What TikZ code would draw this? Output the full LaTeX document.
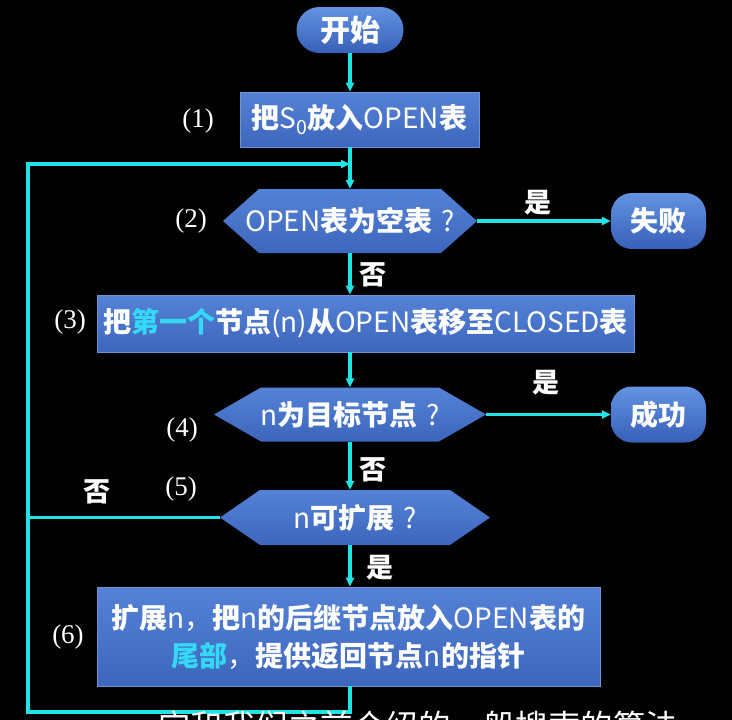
\documentclass[tikz,border=0pt]{standalone}
\usepackage{fontspec}
\newfontfamily\cjk{Noto Sans CJK SC}
\newfontfamily\numfont{Liberation Serif}
\usetikzlibrary{arrows.meta,calc}

\definecolor{flowcyan}{HTML}{22E4E6}
\definecolor{hicyan}{HTML}{35D8F5}
\definecolor{boxtop}{HTML}{5482D6}
\definecolor{boxbot}{HTML}{3D66BC}
\definecolor{pilltop}{HTML}{6493E2}
\definecolor{pillbot}{HTML}{3760B8}
\definecolor{edge}{HTML}{6F93DA}

% light-weight Latin inside the bold CJK labels
\newcommand\lat[1]{{\mdseries #1}}
% highlighted words
\newcommand\hl[1]{\textcolor{hicyan}{#1}}
% question mark set apart from the preceding word
\newcommand\qm{\lat{\hspace{9pt}?}}

\begin{document}
\begin{tikzpicture}[x=1pt,y=-1pt,
  every node/.style={text=white},
  cjkfont/.style={font=\cjk\bfseries\fontsize{28}{38}\selectfont},
  procbox/.style={cjkfont, rectangle, inner sep=0pt, top color=boxtop,
    bottom color=boxbot, draw=edge, line width=0.8pt, align=center},
  terminal/.style={cjkfont, rectangle, rounded corners=#1, inner sep=0pt,
    top color=pilltop, bottom color=pillbot},
  hexagon/.style={cjkfont, rectangle, inner sep=0pt, path picture={
    \path[top color=boxtop, bottom color=boxbot]
      (path picture bounding box.west)
      -- ([xshift=#1]path picture bounding box.north west)
      -- ([xshift=-#1]path picture bounding box.north east)
      -- (path picture bounding box.east)
      -- ([xshift=-#1]path picture bounding box.south east)
      -- ([xshift=#1]path picture bounding box.south west) -- cycle;}},
  numlbl/.style={font=\numfont\fontsize{27}{30}\selectfont},
  yn/.style={font=\cjk\bfseries\fontsize{27}{30}\selectfont},
  flow/.style={draw=flowcyan, line width=3.4pt},
  arrow/.style={flow, -{Triangle[length=9pt,width=8pt]}}
]
\path[use as bounding box, fill=black] (0,0) rectangle (732,720);
\clip (0,0) rectangle (732,720);

% trunk column and loop corners
\coordinate (tx) at (350,0);
\coordinate (lb) at (28,712);
\coordinate (lt) at (28,164);
\coordinate (tj) at (350,164);

% steps
\node[terminal=23pt, minimum width=107pt, minimum height=46pt,
      font=\cjk\bfseries\fontsize{30}{34}\selectfont] (start) at (350,30) {开始};
\node[procbox, minimum width=239pt, minimum height=55pt] (b1) at (359.5,119.5)
  {把\lat{S\textsubscript{0}}放入\lat{OPEN}表};
\node[hexagon=36pt, minimum width=254pt, minimum height=64pt] (d2) at (350,221)
  {\lat{OPEN}表为空表\qm};
\node[terminal=21pt, minimum width=95pt, minimum height=56pt] (fail) at (658.5,221) {失败};
\node[procbox, minimum width=537pt, minimum height=57pt] (b3) at (365.5,323.5)
  {把\hl{第一个}节点\lat{(n)}从\lat{OPEN}表移至\lat{CLOSED}表};
\node[hexagon=47pt, minimum width=272pt, minimum height=54pt] (d4) at (350,414.5)
  {\lat{n}为目标节点\qm};
\node[terminal=21pt, minimum width=95pt, minimum height=56pt] (succ) at (658.5,414.5) {成功};
\node[hexagon=40pt, minimum width=270pt, minimum height=55pt] (d5) at (355,517.5)
  {\lat{n}可扩展\qm};
\node[procbox, minimum width=503pt, minimum height=99pt] (b6) at (348.5,636.5)
  {扩展\lat{n，}把\lat{n}的后继节点放入\lat{OPEN}表的\\
   \hl{尾部}\lat{，}提供返回节点\lat{n}的指针};

% connectors
\draw[arrow] (start.south) -- (b1.north -| tx);
\draw[arrow] (b1.south -| tx) -- (d2.north);
\draw[arrow] (d2.east) -- (fail.west);
\draw[arrow] (d2.south) -- (b3.north -| tx);
\draw[arrow] (b3.south -| tx) -- (d4.north);
\draw[arrow] (d4.east) -- (succ.west);
\draw[arrow] (d4.south) -- (d5.north -| tx);
\draw[flow] (d5.west) -- (d5.west -| lb);
\draw[arrow] (d5.south -| tx) -- (b6.north -| tx);
\draw[arrow] (b6.south -| tx) |- (lb) -- (lt) -- (tj);

% step numbers
\node[numlbl] (n1) at (198,121) {(1)};
\node[numlbl] (n2) at (191,221) {(2)};
\node[numlbl] (n3) at (70,322) {(3)};
\node[numlbl] (n4) at (182,430) {(4)};
\node[numlbl] (n5) at (181,489) {(5)};
\node[numlbl] (n6) at (68,637) {(6)};

% branch labels
\node[yn] (y2) at (538,203) {是};
\node[yn] (y4) at (546,383) {是};
\node[yn] (y5) at (380,568) {是};
\node[yn] (no2) at (373,275) {否};
\node[yn] (no4) at (373,470) {否};
\node[yn] (no5) at (97,492) {否};

% caption line along the lower edge
\node[font=\cjk\fontsize{32.5}{36}\selectfont, anchor=base west, inner sep=0pt]
  (sub) at (158,738) {它和我们之前介绍的一般搜索的算法};
\end{tikzpicture}
\end{document}
